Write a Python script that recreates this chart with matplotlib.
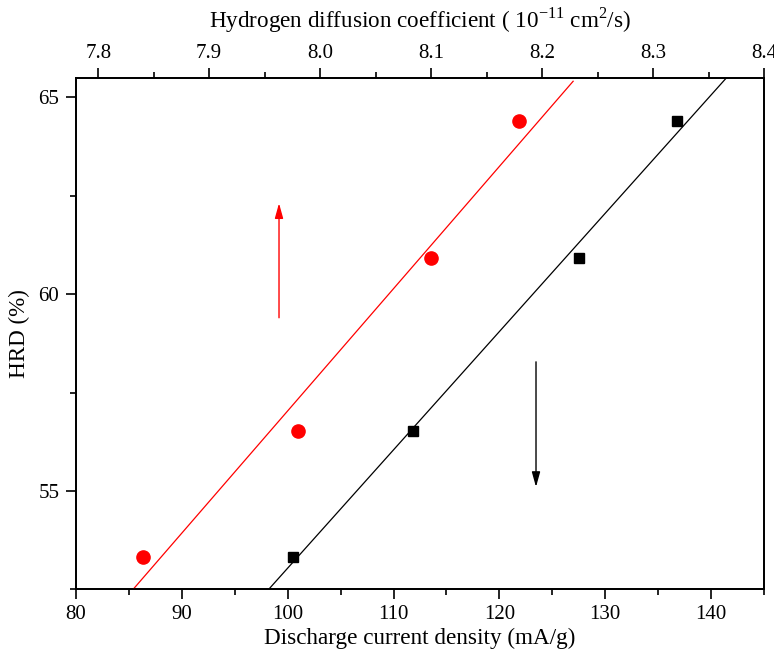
import numpy as np
import matplotlib
matplotlib.use("Agg")
import matplotlib.pyplot as plt
from matplotlib.ticker import MultipleLocator, FormatStrFormatter

plt.rcParams['font.family'] = ['Liberation Serif', 'DejaVu Serif']
plt.rcParams['mathtext.fontset'] = 'custom'
plt.rcParams['mathtext.rm'] = 'Liberation Serif'

# Data
hrd = [53.33, 56.52, 60.91, 64.41]
current_density = [100.47, 111.81, 127.55, 136.75]   # bottom axis (black squares)
diffusion_coef = [7.840, 7.980, 8.0996, 8.1795]      # top axis (red circles)

# Arrow annotations (bottom-axis x, HRD start y, HRD end y)
red_arrow = (99.18, 59.40, 62.31)
black_arrow = (123.46, 58.28, 55.10)

fig = plt.figure(figsize=(7.74, 6.56), dpi=100)
ax = fig.add_axes([76/774, (656-589.3)/656, 688/774, 511.6/656])
ax2 = ax.twiny()

ax.set_xlim(80, 145)
ax.set_ylim(52.5, 65.5)
ax2.set_xlim(7.78, 8.4)

# black squares + fit
ax.plot(current_density, hrd, 's', color='black', markersize=7.5, zorder=3)
k, b = np.polyfit(current_density, hrd, 1)
xs = np.array([90, 150])
ax.plot(xs, k*xs + b, color='black', lw=0.9)

# red circles + fit
ax2.plot(diffusion_coef, hrd, 'o', color='red', markersize=9.5, zorder=3)
k2, b2 = np.polyfit(diffusion_coef, hrd, 1)
xs2 = np.array([7.75, 8.228])
ax2.plot(xs2, k2*xs2 + b2, color='red', lw=0.9)

# arrows
style = '-|>,head_length=0.9,head_width=0.25'
ax.annotate('', xy=(red_arrow[0], red_arrow[2]), xytext=(red_arrow[0], red_arrow[1]),
            arrowprops=dict(arrowstyle=style, color='red', lw=1.0, mutation_scale=10,
                            shrinkA=0, shrinkB=0))
ax.annotate('', xy=(black_arrow[0], black_arrow[2]), xytext=(black_arrow[0], black_arrow[1]),
            arrowprops=dict(arrowstyle=style, color='black', lw=1.0, mutation_scale=10,
                            shrinkA=0, shrinkB=0))

ax.xaxis.set_major_locator(MultipleLocator(10))
ax.xaxis.set_minor_locator(MultipleLocator(5))
ax.yaxis.set_major_locator(MultipleLocator(5))
ax.yaxis.set_minor_locator(MultipleLocator(2.5))
ax2.xaxis.set_major_locator(MultipleLocator(0.1))
ax2.xaxis.set_minor_locator(MultipleLocator(0.05))
ax2.xaxis.set_major_formatter(FormatStrFormatter('%.1f'))

for a in (ax, ax2):
    for s in a.spines.values():
        s.set_linewidth(1.3)

ax.tick_params(axis='both', which='major', direction='out', length=7, width=1.2,
               labelsize=15, top=False, right=False, pad=4)
ax.tick_params(axis='y', which='major', pad=5)
ax.tick_params(axis='both', which='minor', direction='out', length=4, width=1.2,
               top=False, right=False)
ax2.tick_params(axis='x', which='major', direction='out', length=7, width=1.2,
                labelsize=15, pad=3.5)
ax2.tick_params(axis='x', which='minor', direction='out', length=4, width=1.2)

ax.set_xlabel('Discharge current density (mA/g)', fontsize=16.7, labelpad=3)
ax.set_ylabel('HRD (%)', fontsize=16.7, labelpad=6)
ax2.set_xlabel('Hydrogen diffusion coefficient ( 10$^{-11}$ cm$^{2}$/s)', fontsize=16.7, labelpad=12)

fig.savefig('out.png', dpi=100)
